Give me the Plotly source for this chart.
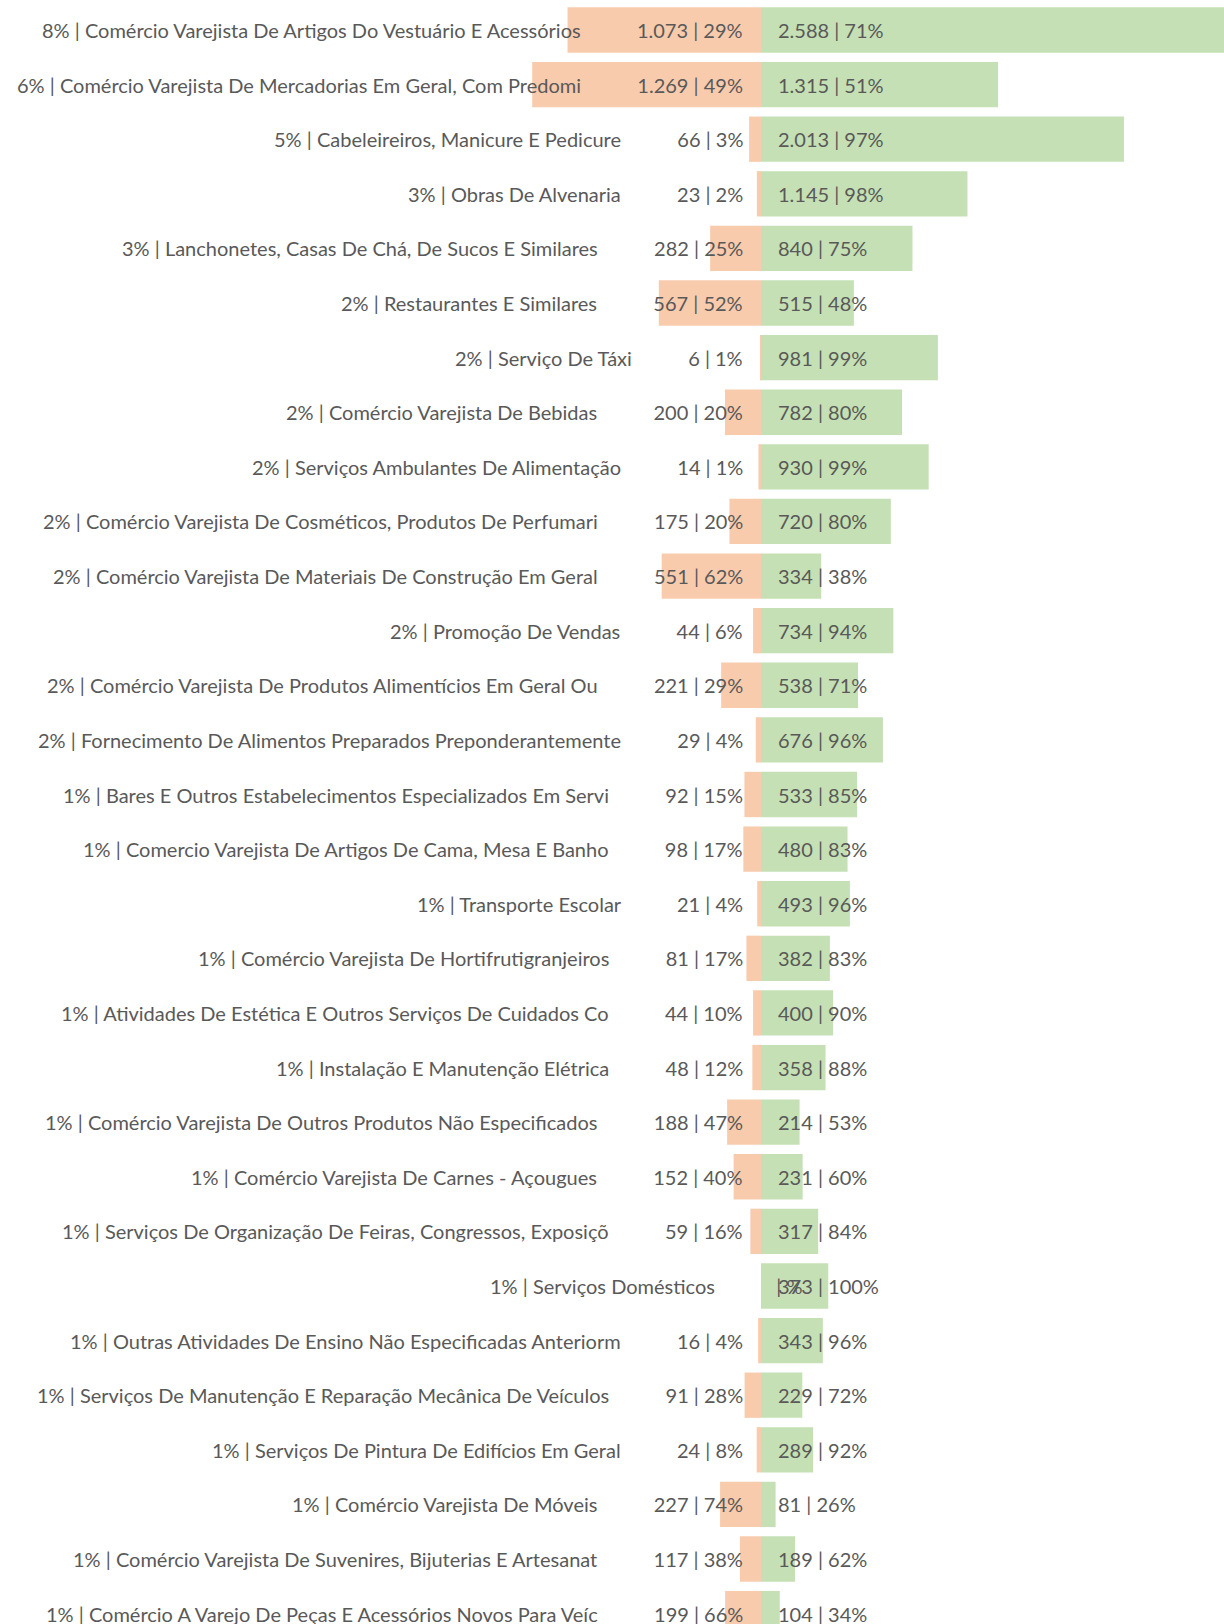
import plotly.graph_objects as go

# Activity categories (share of total | description)
categories = [
    "8% | Comércio Varejista De Artigos Do Vestuário E Acessórios",
    "6% | Comércio Varejista De Mercadorias Em Geral, Com Predomi",
    "5% | Cabeleireiros, Manicure E Pedicure",
    "3% | Obras De Alvenaria",
    "3% | Lanchonetes, Casas De Chá, De Sucos E Similares",
    "2% | Restaurantes E Similares",
    "2% | Serviço De Táxi",
    "2% | Comércio Varejista De Bebidas",
    "2% | Serviços Ambulantes De Alimentação",
    "2% | Comércio Varejista De Cosméticos, Produtos De Perfumari",
    "2% | Comércio Varejista De Materiais De Construção Em Geral",
    "2% | Promoção De Vendas",
    "2% | Comércio Varejista De Produtos Alimentícios Em Geral Ou",
    "2% | Fornecimento De Alimentos Preparados Preponderantemente",
    "1% | Bares E Outros Estabelecimentos Especializados Em Servi",
    "1% | Comercio Varejista De Artigos De Cama, Mesa E Banho",
    "1% | Transporte Escolar",
    "1% | Comércio Varejista De Hortifrutigranjeiros",
    "1% | Atividades De Estética E Outros Serviços De Cuidados Co",
    "1% | Instalação E Manutenção Elétrica",
    "1% | Comércio Varejista De Outros Produtos Não Especificados",
    "1% | Comércio Varejista De Carnes - Açougues",
    "1% | Serviços De Organização De Feiras, Congressos, Exposiçõ",
    "1% | Serviços Domésticos",
    "1% | Outras Atividades De Ensino Não Especificadas Anteriorm",
    "1% | Serviços De Manutenção E Reparação Mecânica De Veículos",
    "1% | Serviços De Pintura De Edifícios Em Geral",
    "1% | Comércio Varejista De Móveis",
    "1% | Comércio Varejista De Suvenires, Bijuterias E Artesanat",
    "1% | Comércio A Varejo De Peças E Acessórios Novos Para Veíc",
]

# Left (orange) series: counts and percentages
left_values = [1073, 1269, 66, 23, 282, 567, 6, 200, 14, 175, 551, 44, 221, 29, 92,
               98, 21, 81, 44, 48, 188, 152, 59, None, 16, 91, 24, 227, 117, 199]
left_pcts = [29, 49, 3, 2, 25, 52, 1, 20, 1, 20, 62, 6, 29, 4, 15,
             17, 4, 17, 10, 12, 47, 40, 16, None, 4, 28, 8, 74, 38, 66]

# Right (green) series: counts and percentages
right_values = [2588, 1315, 2013, 1145, 840, 515, 981, 782, 930, 720, 334, 734, 538, 676, 533,
                480, 493, 382, 400, 358, 214, 231, 317, 373, 343, 229, 289, 81, 189, 104]
right_pcts = [71, 51, 97, 98, 75, 48, 99, 80, 99, 80, 38, 94, 71, 96, 85,
              83, 96, 83, 90, 88, 53, 60, 84, 100, 96, 72, 92, 26, 62, 34]

ORANGE = "#F8CBAD"
GREEN = "#C5E0B4"
TEXT = "#595959"
FONT = "Lato"
SIZE = 20


def fmt_num(v):
    if v is None:
        return ""
    return f"{v:,}".replace(",", ".")


def fmt_pct(p):
    return "" if p is None else str(p)


rows = list(range(len(categories)))
left_plot = [-(v or 0) for v in left_values]

fig = go.Figure()
fig.add_trace(go.Bar(
    y=rows, x=left_plot, orientation="h", marker=dict(color=ORANGE, line=dict(width=0)),
    width=0.83, hoverinfo="skip", showlegend=False,
))
fig.add_trace(go.Bar(
    y=rows, x=right_values, orientation="h", marker=dict(color=GREEN, line=dict(width=0)),
    width=0.83, hoverinfo="skip", showlegend=False,
))

GAP = "\u00a0" * 11
annotations = []
for i, cat in enumerate(categories):
    left_label = f"{fmt_num(left_values[i])} | {fmt_pct(left_pcts[i])}%"
    shift = -16 if left_values[i] is not None else 44
    annotations.append(dict(
        x=0, y=i, xref="x", yref="y", text=cat + GAP + left_label,
        xanchor="right", yanchor="middle", xshift=shift, showarrow=False,
        font=dict(family=FONT, size=SIZE, color=TEXT),
    ))
    annotations.append(dict(
        x=0, y=i, xref="x", yref="y",
        text=f"{fmt_num(right_values[i])} | {fmt_pct(right_pcts[i])}%",
        xanchor="left", yanchor="middle", xshift=15, showarrow=False,
        font=dict(family=FONT, size=SIZE, color=TEXT),
    ))

fig.update_layout(
    width=1224, height=1624,
    margin=dict(l=0, r=0, t=0, b=0),
    paper_bgcolor="white", plot_bgcolor="white",
    barmode="relative",
    xaxis=dict(range=[-4221, 2568], visible=False, fixedrange=True),
    yaxis=dict(range=[29.19, -0.549], visible=False, fixedrange=True),
    annotations=annotations,
)

fig.write_html("out.html", config={"displayModeBar": False})
